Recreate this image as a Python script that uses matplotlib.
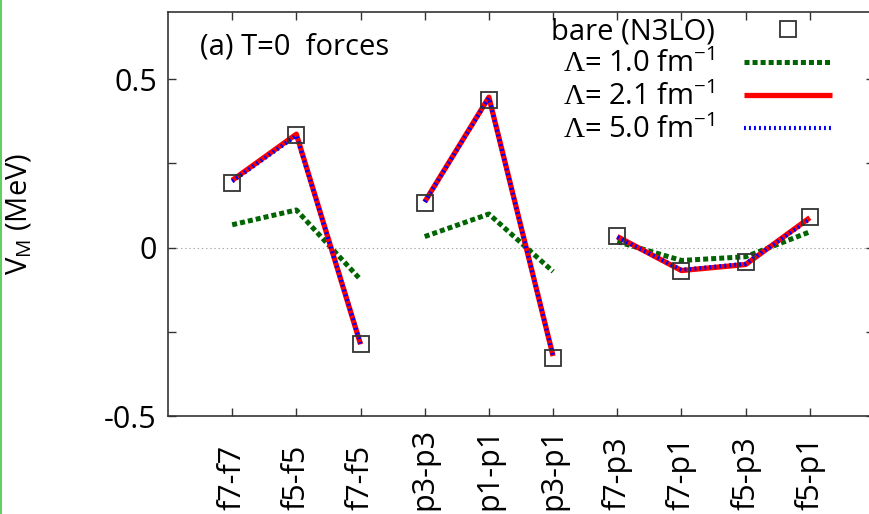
import numpy as np
import matplotlib
matplotlib.use("Agg")
import matplotlib.pyplot as plt
from matplotlib.lines import Line2D

plt.rcParams['font.family'] = ['Open Sans', 'DejaVu Sans']
plt.rcParams['mathtext.fontset'] = 'custom'
plt.rcParams['mathtext.rm'] = 'Open Sans'
plt.rcParams['mathtext.sf'] = 'Open Sans'
plt.rcParams['mathtext.cal'] = 'Liberation Serif'
plt.rcParams['lines.scale_dashes'] = False

# пары орбиталей
pairs = ["f7-f7", "f5-f5", "f7-f5", "p3-p3", "p1-p1", "p3-p1",
         "f7-p3", "f7-p1", "f5-p3", "f5-p1"]
# группы, которые соединяются линиями
groups = [[0, 1, 2], [3, 4, 5], [6, 7, 8, 9]]

bare = [0.192, 0.334, -0.287, 0.133, 0.438, -0.328, 0.036, -0.068, -0.044, 0.092]
lam10 = [0.068, 0.112, -0.095, 0.033, 0.100, -0.071, 0.018, -0.038, -0.027, 0.047]
lam21 = [0.200, 0.337, -0.287, 0.136, 0.447, -0.322, 0.033, -0.068, -0.050, 0.089]
lam50 = [0.197, 0.333, -0.285, 0.136, 0.445, -0.322, 0.031, -0.066, -0.048, 0.085]

x = np.arange(1, len(pairs) + 1)

fig = plt.figure(figsize=(8.69, 5.14), dpi=100)
ax = fig.add_axes([168 / 869, 1 - 416 / 514, 706 / 869, 404 / 514])

ax.axhline(0, color="#aaaaaa", lw=0.8, ls=(0, (1, 2)), zorder=1)

for k, g in enumerate(groups):
    gx = x[g]
    ax.plot(gx, np.array(lam10)[g], color="#006400", lw=3.6, dashes=(3.6, 2.2),
            label=r"$\mathcal{\Lambda}$= 1.0 fm$^{-1}$" if k == 0 else None, zorder=3)
    ax.plot(gx, np.array(lam21)[g], color="#ff0000", lw=3.8, solid_capstyle="butt",
            label=r"$\mathcal{\Lambda}$= 2.1 fm$^{-1}$" if k == 0 else None, zorder=4)
    ax.plot(gx, np.array(lam50)[g], color="#0000ff", lw=3.0, dashes=(1.4, 2.2),
            label=r"$\mathcal{\Lambda}$= 5.0 fm$^{-1}$" if k == 0 else None, zorder=5)

ax.plot(x, bare, ls="none", marker="s", ms=11, mfc="none", mec="#333333", mew=1.3,
        label="bare (N3LO)", zorder=6)

ax.set_xlim(0, 11)
ax.set_ylim(-0.5, 0.7)
ax.set_xticks(x)
ax.set_xticklabels(pairs, rotation=90, fontsize=22, va="bottom")
ax.set_yticks([-0.5, -0.25, 0, 0.25, 0.5])
ax.set_yticklabels(["-0.5", "", "0", "", "0.5"], fontsize=22)
ax.tick_params(axis="both", direction="in", length=6, width=1, top=True, right=True,
               color="#333333")
ax.tick_params(axis="x", pad=68)
ax.tick_params(axis="y", pad=8)
for s in ax.spines.values():
    s.set_color("#333333")
    s.set_linewidth(1.2)

ax.set_ylabel(r"V$_{\mathrm{M}}$ (MeV)", fontsize=21)
ax.yaxis.set_label_coords(-0.19, 0.5)

ax.text(0.046, 0.913, "(a) T=0  forces", transform=ax.transAxes, fontsize=21,
        va="center", ha="left")

h, l = ax.get_legend_handles_labels()
order = [3, 0, 1, 2]
ax.legend([h[i] for i in order], [l[i] for i in order], loc="upper right",
          bbox_to_anchor=(0.965, 1.03), frameon=False, markerfirst=False,
          fontsize=21, handlelength=3.0, labelspacing=0.1, handletextpad=1.0,
          borderaxespad=0.2)

fig.add_artist(Line2D([0.001, 0.001], [0, 1], transform=fig.transFigure,
                      color="#66cc66", lw=1.5))

fig.savefig("out.png", dpi=100)
